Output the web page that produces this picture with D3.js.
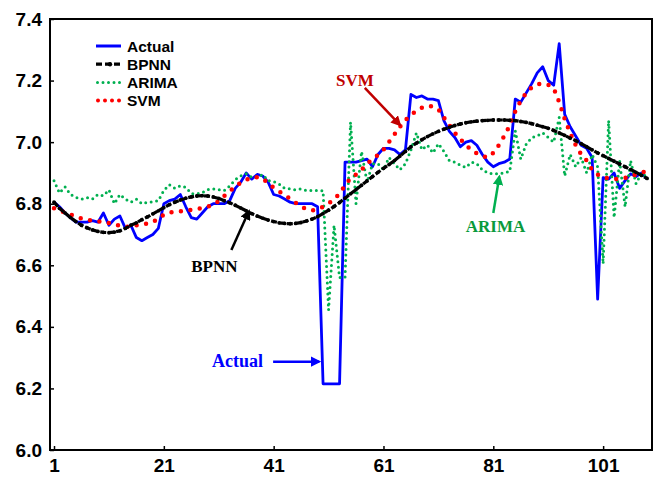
<!DOCTYPE html>
<html>
<head>
<meta charset="utf-8">
<script src="https://cdn.jsdelivr.net/npm/d3@7"></script>
<style>
  html, body { margin: 0; padding: 0; background: #fff; }
  svg { display: block; }
</style>
</head>
<body>
<div id="chart"></div>
<script>
// ---- data ----
const actual = [
  6.805,6.79,6.77,6.755,6.74,6.74,6.74,6.745,6.74,6.77,
  6.73,6.75,6.76,6.72,6.73,6.69,6.68,6.69,6.70,6.72,
  6.80,6.81,6.815,6.83,6.79,6.755,6.75,6.77,6.79,6.80,
  6.80,6.80,6.81,6.85,6.87,6.90,6.88,6.895,6.89,6.87,
  6.83,6.825,6.815,6.805,6.80,6.80,6.80,6.80,6.79,6.215,
  6.215,6.215,6.215,6.935,6.935,6.935,6.94,6.945,6.92,6.96,
  6.98,6.98,6.975,6.96,6.975,7.155,7.145,7.15,7.14,7.14,
  7.135,7.07,7.035,7.015,6.985,7.00,7.005,6.99,6.96,6.935,
  6.92,6.93,6.935,6.945,7.14,7.13,7.16,7.19,7.225,7.245,
  7.20,7.185,7.32,7.09,7.05,7.02,6.99,6.98,6.95,6.49,
  6.885,6.88,6.90,6.85,6.875,6.897,6.888,6.90,6.88
];
const bpnn = [
  6.805,6.785,6.77,6.755,6.742,6.73,6.722,6.715,6.71,6.707,
  6.706,6.708,6.712,6.72,6.73,6.738,6.748,6.757,6.767,6.777,
  6.787,6.797,6.805,6.812,6.818,6.822,6.825,6.826,6.825,6.822,
  6.817,6.81,6.803,6.795,6.786,6.777,6.768,6.76,6.753,6.747,
  6.742,6.738,6.736,6.735,6.736,6.739,6.744,6.75,6.758,6.768,
  6.779,6.791,6.804,6.818,6.832,6.846,6.86,6.874,6.888,6.902,
  6.915,6.927,6.94,6.955,6.97,6.985,6.997,7.008,7.018,7.027,
  7.035,7.042,7.048,7.054,7.059,7.063,7.066,7.068,7.07,7.071,
  7.072,7.072,7.072,7.071,7.07,7.067,7.064,7.06,7.055,7.05,
  7.045,7.038,7.03,7.022,7.013,7.005,6.995,6.985,6.975,6.965,
  6.956,6.947,6.938,6.929,6.92,6.911,6.902,6.892,6.882
];
const arima = [
  6.875,6.835,6.855,6.83,6.82,6.815,6.82,6.815,6.83,6.826,
  6.845,6.80,6.83,6.815,6.805,6.815,6.80,6.805,6.806,6.81,
  6.843,6.862,6.85,6.858,6.853,6.833,6.832,6.836,6.846,6.848,
  6.846,6.843,6.858,6.878,6.89,6.897,6.886,6.886,6.895,6.875,
  6.872,6.864,6.85,6.848,6.845,6.848,6.843,6.843,6.843,6.842,
  6.455,6.73,6.56,6.56,7.065,6.80,6.97,6.87,6.93,6.93,
  6.91,6.95,6.93,6.91,6.93,6.975,7.03,6.975,6.99,6.965,
  6.995,6.97,6.94,6.935,6.925,6.918,6.935,6.93,6.91,6.90,
  6.897,6.897,6.90,6.905,7.037,6.945,6.994,7.015,7.02,7.03,
  7.015,7.0,7.08,6.89,6.96,6.92,6.95,6.90,6.96,6.92,
  6.605,7.07,6.755,6.94,6.79,6.94,6.865,6.90,6.886
];
const svm = [
  6.785,6.778,6.772,6.765,6.758,6.752,6.748,6.745,6.743,6.74,
  6.737,6.733,6.728,6.725,6.725,6.73,6.733,6.735,6.742,6.75,
  6.765,6.772,6.772,6.775,6.778,6.78,6.783,6.786,6.79,6.798,
  6.808,6.825,6.84,6.856,6.868,6.878,6.884,6.886,6.882,6.866,
  6.852,6.84,6.828,6.816,6.803,6.79,6.783,6.778,6.782,6.79,
  6.80,6.815,6.832,6.86,6.882,6.895,6.91,6.93,6.945,6.958,
  6.975,7.0,7.025,7.05,7.072,7.088,7.102,7.112,7.118,7.116,
  7.107,7.08,7.055,7.03,7.01,6.99,6.975,6.963,6.955,6.95,
  6.965,6.99,7.02,7.055,7.1,7.135,7.16,7.178,7.188,7.19,
  7.186,7.175,7.13,7.075,7.03,6.99,6.96,6.94,6.91,6.895,
  6.886,6.882,6.88,6.88,6.884,6.888,6.895,6.9,6.907
];
const xTicks = [1, 21, 41, 61, 81, 101];
const yTicks = [6.0, 6.2, 6.4, 6.6, 6.8, 7.0, 7.2, 7.4];
const seriesNames = ["Actual", "BPNN", "ARIMA", "SVM"];
const seriesColors = ["#0000ff", "#000000", "#00b050", "#ff0000"];

// annotations: label text, label position (index, value), arrow tail -> tip (index, value)
const annLabels = ["SVM", "BPNN", "ARIMA", "Actual"];
const annColors = ["#c00000", "#000000", "#0a9a3c", "#0000ff"];
const annArrowColors = ["#c00000", "#000000", "#00b050", "#0000ff"];
const annText = [[55.8, 7.202], [30.2, 6.598], [81.4, 6.728], [34.4, 6.289]];
const annTail = [[57.6, 7.176], [33.3, 6.650], [81.0, 6.770], [40.9, 6.287]];
const annTip  = [[64.0, 7.056], [36.5, 6.776], [82.1, 6.888], [49.3, 6.287]];

// ---- drawing ----
const W = 659, H = 480;
const svg = d3.select("#chart").append("svg").attr("width", W).attr("height", H);

const x = d3.scaleLinear().domain([0.27, 109.9]).range([50, 652]);
const y = d3.scaleLinear().domain([6.0, 7.4]).range([450, 19]);

const idx = actual.map((_, i) => i + 1);
const line = d3.line().x((d, i) => x(idx[i])).y(d => y(d));

// arrow markers
const defs = svg.append("defs");
annArrowColors.forEach((c, k) => {
  defs.append("marker")
    .attr("id", "arr" + k)
    .attr("viewBox", "0 0 10 10")
    .attr("refX", 8).attr("refY", 5)
    .attr("markerWidth", 4.2).attr("markerHeight", 4.2)
    .attr("markerUnits", "strokeWidth")
    .attr("orient", "auto")
    .append("path").attr("d", "M0,0 L10,5 L0,10 z").attr("fill", c);
});

// axes
const fontAxis = "'Liberation Sans', Arial, sans-serif";
const yAxis = d3.axisLeft(y).tickValues(yTicks).tickFormat(d3.format(".1f")).tickSize(-4).tickPadding(8);
const xAxis = d3.axisBottom(x).tickValues(xTicks).tickFormat(d3.format("d")).tickSize(-4).tickPadding(9);

const gy = svg.append("g").attr("transform", "translate(50,0)").call(yAxis);
const gx = svg.append("g").attr("transform", "translate(0,450)").call(xAxis);
[gx, gy].forEach(g => {
  g.select(".domain").remove();
  g.selectAll(".tick line").attr("stroke", "#000").attr("stroke-width", 1.5);
  g.selectAll(".tick text")
    .attr("fill", "#000")
    .style("font-family", fontAxis)
    .style("font-weight", "bold")
    .style("font-size", "19px");
});

// series
const plot = svg.append("g");
plot.append("path").datum(actual).attr("d", line)
  .attr("fill", "none").attr("stroke", seriesColors[0]).attr("stroke-width", 2.8)
  .attr("stroke-linejoin", "round");
plot.append("path").datum(arima).attr("d", line)
  .attr("fill", "none").attr("stroke", seriesColors[2]).attr("stroke-width", 3)
  .attr("stroke-linecap", "round").attr("stroke-dasharray", "0,5.5");
plot.append("path").datum(svm).attr("d", line)
  .attr("fill", "none").attr("stroke", seriesColors[3]).attr("stroke-width", 4.5)
  .attr("stroke-linecap", "round").attr("stroke-dasharray", "0,9.5");
plot.append("path").datum(bpnn).attr("d", line)
  .attr("fill", "none").attr("stroke", seriesColors[1]).attr("stroke-width", 3.2)
  .attr("stroke-dasharray", "6,2");
plot.selectAll("circle.bp").data(bpnn).enter().append("circle")
  .attr("class", "bp")
  .attr("cx", (d, i) => x(idx[i])).attr("cy", d => y(d)).attr("r", 1.9)
  .attr("fill", "#000");

// frame
svg.append("rect").attr("x", 50).attr("y", 19).attr("width", 602).attr("height", 431)
  .attr("fill", "none").attr("stroke", "#000").attr("stroke-width", 2);

// legend
const leg = svg.append("g").attr("transform", "translate(96,46)");
seriesNames.forEach((name, k) => {
  const g = leg.append("g").attr("transform", `translate(0,${k * 18.2})`);
  const ln = g.append("line").attr("x1", 0).attr("x2", 25).attr("y1", 0).attr("y2", 0)
    .attr("stroke", seriesColors[k]);
  if (k === 0) ln.attr("stroke-width", 3);
  if (k === 1) {
    ln.attr("stroke-width", 3.2).attr("stroke-dasharray", "6,3");
    g.append("circle").attr("cx", 14).attr("cy", 0).attr("r", 2.2).attr("fill", "#000");
  }
  if (k === 2) ln.attr("stroke-width", 3).attr("stroke-linecap", "round").attr("stroke-dasharray", "0,5.5").attr("x1", 1.5);
  if (k === 3) ln.attr("stroke-width", 4).attr("stroke-linecap", "round").attr("stroke-dasharray", "0,7").attr("x1", 2);
  g.append("text").attr("x", 31).attr("y", 5.5).text(name)
    .attr("fill", "#000")
    .style("font-family", fontAxis).style("font-weight", "bold").style("font-size", "15.5px");
});

// annotations
const ann = svg.append("g");
annLabels.forEach((lab, k) => {
  ann.append("line")
    .attr("x1", x(annTail[k][0])).attr("y1", y(annTail[k][1]))
    .attr("x2", x(annTip[k][0])).attr("y2", y(annTip[k][1]))
    .attr("stroke", annArrowColors[k]).attr("stroke-width", 2.5)
    .attr("marker-end", `url(#arr${k})`);
  ann.append("text")
    .attr("x", x(annText[k][0])).attr("y", y(annText[k][1]))
    .attr("dy", "0.35em").attr("text-anchor", "middle")
    .attr("fill", annColors[k])
    .style("font-family", "'Liberation Serif', 'Times New Roman', serif")
    .style("font-weight", "bold").style("font-size", k === 3 ? "18px" : "17px")
    .text(lab);
});
</script>
</body>
</html>
